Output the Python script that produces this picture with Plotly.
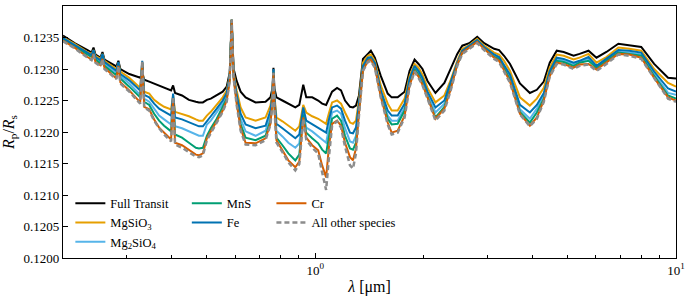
import plotly.graph_objects as go

# wavelength grid [micron]
wavelength = [
    0.2000, 0.2154, 0.2339, 0.2400, 0.2430, 0.2461, 0.2541, 0.2573, 0.2606, 0.2690,
    0.2812, 0.2848, 0.2884, 0.3053, 0.3274, 0.3316, 0.3358, 0.3467, 0.3578, 0.3693,
    0.3813, 0.3987, 0.4038, 0.4089, 0.4274, 0.4467, 0.4670, 0.4762, 0.4884, 0.5009,
    0.5137, 0.5335, 0.5543, 0.5685, 0.5795, 0.5833, 0.5869, 0.5905, 0.5943, 0.6058,
    0.6214, 0.6414, 0.6835, 0.7284, 0.7516, 0.7612, 0.7662, 0.7711, 0.7810, 0.8113,
    0.8425, 0.8809, 0.9035, 0.9267, 0.9445, 0.9811, 1.0192, 1.0454, 1.0722, 1.0928,
    1.1138, 1.1497, 1.1793, 1.2097, 1.2488, 1.2728, 1.2972, 1.3222, 1.3562, 1.3996,
    1.4265, 1.4632, 1.5197, 1.5886, 1.6293, 1.6927, 1.7693, 1.8265, 1.8855, 1.9339,
    1.9834, 2.0479, 2.1544, 2.2804, 2.3690, 2.4762, 2.5568, 2.6730, 2.8119, 2.9395,
    3.1325, 3.2331, 3.3375, 3.4674, 3.6941, 3.9355, 4.1143, 4.3013, 4.4677, 4.6710,
    4.8832, 5.2024, 5.4036, 5.7226, 6.0198, 6.4149, 6.9216, 7.4215, 8.0112, 8.6977,
    9.5060, 10.000,
]

full_transit = [
    0.12353, 0.12341, 0.12330, 0.12326, 0.12334, 0.12323, 0.12318, 0.12327, 0.12315, 0.12310,
    0.12304, 0.12313, 0.12300, 0.12292, 0.12286, 0.12294, 0.12283, 0.12280, 0.12277, 0.12274,
    0.12270, 0.12266, 0.12274, 0.12262, 0.12258, 0.12251, 0.12248, 0.12247, 0.12247, 0.12251,
    0.12253, 0.12258, 0.12264, 0.12272, 0.12294, 0.12337, 0.12378, 0.12337, 0.12300, 0.12281,
    0.12264, 0.12255, 0.12247, 0.12248, 0.12255, 0.12269, 0.12302, 0.12269, 0.12255, 0.12250,
    0.12245, 0.12239, 0.12243, 0.12275, 0.12255, 0.12255, 0.12250, 0.12245, 0.12243, 0.12255,
    0.12264, 0.12270, 0.12266, 0.12250, 0.12240, 0.12239, 0.12242, 0.12258, 0.12316, 0.12324,
    0.12329, 0.12318, 0.12289, 0.12261, 0.12255, 0.12255, 0.12264, 0.12297, 0.12315, 0.12308,
    0.12300, 0.12281, 0.12262, 0.12278, 0.12299, 0.12324, 0.12337, 0.12341, 0.12351, 0.12341,
    0.12332, 0.12330, 0.12321, 0.12308, 0.12277, 0.12262, 0.12267, 0.12280, 0.12310, 0.12329,
    0.12327, 0.12321, 0.12324, 0.12329, 0.12318, 0.12327, 0.12340, 0.12338, 0.12335, 0.12308,
    0.12286, 0.12285,
]

mgsio3 = [
    0.12350, 0.12340, 0.12327, 0.12324, 0.12330, 0.12321, 0.12316, 0.12324, 0.12313, 0.12308,
    0.12300, 0.12310, 0.12296, 0.12286, 0.12270, 0.12310, 0.12264, 0.12261, 0.12251, 0.12245,
    0.12240, 0.12236, 0.12258, 0.12232, 0.12229, 0.12225, 0.12220, 0.12218, 0.12218, 0.12226,
    0.12232, 0.12243, 0.12255, 0.12266, 0.12289, 0.12334, 0.12378, 0.12334, 0.12294, 0.12266,
    0.12239, 0.12223, 0.12218, 0.12223, 0.12242, 0.12262, 0.12297, 0.12258, 0.12223, 0.12217,
    0.12210, 0.12202, 0.12209, 0.12243, 0.12231, 0.12225, 0.12221, 0.12217, 0.12213, 0.12231,
    0.12247, 0.12250, 0.12245, 0.12231, 0.12215, 0.12213, 0.12218, 0.12250, 0.12310, 0.12321,
    0.12323, 0.12313, 0.12274, 0.12245, 0.12234, 0.12234, 0.12253, 0.12289, 0.12308, 0.12302,
    0.12291, 0.12270, 0.12247, 0.12258, 0.12281, 0.12313, 0.12332, 0.12338, 0.12348, 0.12337,
    0.12326, 0.12323, 0.12313, 0.12297, 0.12255, 0.12242, 0.12253, 0.12270, 0.12302, 0.12323,
    0.12321, 0.12315, 0.12318, 0.12324, 0.12310, 0.12319, 0.12334, 0.12332, 0.12329, 0.12300,
    0.12278, 0.12272,
]

mg2sio4 = [
    0.12349, 0.12338, 0.12324, 0.12320, 0.12329, 0.12317, 0.12311, 0.12323, 0.12308, 0.12302,
    0.12294, 0.12310, 0.12289, 0.12277, 0.12259, 0.12311, 0.12253, 0.12248, 0.12236, 0.12226,
    0.12220, 0.12212, 0.12258, 0.12209, 0.12206, 0.12201, 0.12196, 0.12194, 0.12194, 0.12212,
    0.12218, 0.12231, 0.12245, 0.12258, 0.12286, 0.12332, 0.12378, 0.12332, 0.12289, 0.12255,
    0.12221, 0.12201, 0.12194, 0.12202, 0.12226, 0.12255, 0.12297, 0.12248, 0.12202, 0.12193,
    0.12183, 0.12175, 0.12182, 0.12234, 0.12207, 0.12201, 0.12194, 0.12188, 0.12183, 0.12210,
    0.12231, 0.12234, 0.12229, 0.12206, 0.12185, 0.12183, 0.12194, 0.12239, 0.12302, 0.12316,
    0.12318, 0.12307, 0.12262, 0.12226, 0.12218, 0.12218, 0.12239, 0.12281, 0.12302, 0.12294,
    0.12281, 0.12259, 0.12231, 0.12245, 0.12272, 0.12308, 0.12327, 0.12335, 0.12345, 0.12334,
    0.12321, 0.12318, 0.12304, 0.12286, 0.12236, 0.12221, 0.12237, 0.12258, 0.12294, 0.12315,
    0.12313, 0.12308, 0.12311, 0.12316, 0.12304, 0.12315, 0.12327, 0.12326, 0.12323, 0.12292,
    0.12262, 0.12259,
]

mns = [
    0.12347, 0.12336, 0.12323, 0.12319, 0.12327, 0.12315, 0.12309, 0.12319, 0.12305, 0.12299,
    0.12290, 0.12307, 0.12285, 0.12272, 0.12255, 0.12310, 0.12248, 0.12243, 0.12229, 0.12218,
    0.12210, 0.12201, 0.12253, 0.12196, 0.12191, 0.12183, 0.12175, 0.12174, 0.12175, 0.12194,
    0.12206, 0.12221, 0.12239, 0.12253, 0.12283, 0.12330, 0.12378, 0.12330, 0.12286, 0.12250,
    0.12212, 0.12191, 0.12187, 0.12194, 0.12218, 0.12250, 0.12296, 0.12242, 0.12191, 0.12179,
    0.12166, 0.12155, 0.12164, 0.12228, 0.12199, 0.12190, 0.12182, 0.12172, 0.12166, 0.12194,
    0.12221, 0.12226, 0.12218, 0.12194, 0.12174, 0.12172, 0.12183, 0.12234, 0.12300, 0.12315,
    0.12316, 0.12305, 0.12259, 0.12221, 0.12212, 0.12213, 0.12234, 0.12278, 0.12300, 0.12291,
    0.12278, 0.12256, 0.12223, 0.12240, 0.12269, 0.12307, 0.12326, 0.12335, 0.12345, 0.12332,
    0.12319, 0.12316, 0.12300, 0.12283, 0.12232, 0.12215, 0.12231, 0.12253, 0.12292, 0.12313,
    0.12311, 0.12305, 0.12310, 0.12313, 0.12302, 0.12313, 0.12326, 0.12324, 0.12321, 0.12289,
    0.12258, 0.12253,
]

fe = [
    0.12349, 0.12338, 0.12326, 0.12322, 0.12330, 0.12319, 0.12314, 0.12324, 0.12311, 0.12305,
    0.12297, 0.12311, 0.12292, 0.12282, 0.12266, 0.12313, 0.12259, 0.12255, 0.12245, 0.12237,
    0.12232, 0.12226, 0.12261, 0.12223, 0.12220, 0.12215, 0.12210, 0.12209, 0.12209, 0.12218,
    0.12225, 0.12237, 0.12250, 0.12262, 0.12288, 0.12332, 0.12378, 0.12332, 0.12291, 0.12259,
    0.12229, 0.12212, 0.12206, 0.12210, 0.12234, 0.12259, 0.12300, 0.12255, 0.12213, 0.12206,
    0.12198, 0.12190, 0.12196, 0.12239, 0.12218, 0.12212, 0.12207, 0.12202, 0.12199, 0.12221,
    0.12239, 0.12242, 0.12237, 0.12218, 0.12199, 0.12198, 0.12207, 0.12245, 0.12305, 0.12318,
    0.12319, 0.12310, 0.12266, 0.12234, 0.12226, 0.12226, 0.12245, 0.12285, 0.12305, 0.12297,
    0.12286, 0.12264, 0.12239, 0.12250, 0.12277, 0.12310, 0.12329, 0.12337, 0.12346, 0.12335,
    0.12323, 0.12319, 0.12307, 0.12291, 0.12243, 0.12231, 0.12243, 0.12262, 0.12297, 0.12318,
    0.12316, 0.12310, 0.12313, 0.12319, 0.12305, 0.12316, 0.12330, 0.12329, 0.12326, 0.12296,
    0.12269, 0.12264,
]

cr = [
    0.12345, 0.12334, 0.12319, 0.12315, 0.12324, 0.12311, 0.12306, 0.12316, 0.12302, 0.12295,
    0.12285, 0.12305, 0.12279, 0.12266, 0.12247, 0.12310, 0.12240, 0.12236, 0.12220, 0.12207,
    0.12199, 0.12188, 0.12253, 0.12183, 0.12179, 0.12171, 0.12164, 0.12163, 0.12166, 0.12190,
    0.12201, 0.12217, 0.12234, 0.12250, 0.12281, 0.12329, 0.12378, 0.12329, 0.12285, 0.12245,
    0.12206, 0.12183, 0.12182, 0.12190, 0.12213, 0.12247, 0.12294, 0.12239, 0.12187, 0.12171,
    0.12155, 0.12144, 0.12153, 0.12223, 0.12191, 0.12179, 0.12171, 0.12147, 0.12128, 0.12179,
    0.12213, 0.12218, 0.12210, 0.12183, 0.12160, 0.12155, 0.12174, 0.12229, 0.12297, 0.12313,
    0.12315, 0.12304, 0.12256, 0.12215, 0.12199, 0.12202, 0.12226, 0.12274, 0.12297, 0.12288,
    0.12275, 0.12255, 0.12221, 0.12237, 0.12266, 0.12307, 0.12326, 0.12334, 0.12343, 0.12332,
    0.12318, 0.12313, 0.12297, 0.12280, 0.12229, 0.12210, 0.12223, 0.12250, 0.12289, 0.12310,
    0.12308, 0.12302, 0.12307, 0.12308, 0.12299, 0.12310, 0.12324, 0.12323, 0.12318, 0.12286,
    0.12255, 0.12250,
]

all_other = [
    0.12344, 0.12333, 0.12318, 0.12314, 0.12323, 0.12310, 0.12304, 0.12316, 0.12300, 0.12293,
    0.12284, 0.12305, 0.12277, 0.12264, 0.12245, 0.12313, 0.12239, 0.12234, 0.12218, 0.12206,
    0.12196, 0.12185, 0.12256, 0.12180, 0.12175, 0.12168, 0.12161, 0.12160, 0.12163, 0.12187,
    0.12198, 0.12215, 0.12232, 0.12248, 0.12281, 0.12329, 0.12378, 0.12329, 0.12285, 0.12243,
    0.12202, 0.12180, 0.12179, 0.12187, 0.12212, 0.12245, 0.12294, 0.12237, 0.12183, 0.12168,
    0.12152, 0.12139, 0.12149, 0.12221, 0.12188, 0.12175, 0.12166, 0.12136, 0.12108, 0.12163,
    0.12210, 0.12217, 0.12207, 0.12177, 0.12147, 0.12142, 0.12166, 0.12226, 0.12297, 0.12311,
    0.12313, 0.12302, 0.12255, 0.12212, 0.12196, 0.12199, 0.12223, 0.12272, 0.12296, 0.12286,
    0.12274, 0.12253, 0.12218, 0.12234, 0.12264, 0.12305, 0.12324, 0.12332, 0.12341, 0.12330,
    0.12316, 0.12311, 0.12296, 0.12278, 0.12228, 0.12209, 0.12221, 0.12248, 0.12288, 0.12308,
    0.12307, 0.12300, 0.12305, 0.12307, 0.12297, 0.12308, 0.12323, 0.12321, 0.12316, 0.12285,
    0.12253, 0.12248,
]

series = [
    ("Full Transit", full_transit, "#000000", "solid", 2.0, "legend"),
    ("MgSiO<sub>3</sub>", mgsio3, "#E69F00", "solid", 2.0, "legend"),
    ("Mg<sub>2</sub>SiO<sub>4</sub>", mg2sio4, "#56B4E9", "solid", 2.0, "legend"),
    ("MnS", mns, "#009E73", "solid", 2.0, "legend2"),
    ("Fe", fe, "#0072B2", "solid", 2.0, "legend2"),
    ("Cr", cr, "#D55E00", "solid", 2.0, "legend3"),
    ("All other species", all_other, "#8C8C8C", "5px,3px", 2.5, "legend3"),
]

x_major = [1, 10]
x_major_text = ["10<sup>0</sup>", "10<sup>1</sup>"]
x_minor = [0.3, 0.4, 0.5, 0.6, 0.7, 0.8, 0.9, 2, 3, 4, 5, 6, 7, 8, 9]

fig = go.Figure()
for name, vals, color, dash, width, leg in series:
    fig.add_trace(go.Scatter(
        x=wavelength, y=vals, mode="lines", name=name,
        line=dict(color=color, width=width, dash=dash),
        legend=leg,
    ))

SERIF = "Liberation Serif"
font = dict(family=SERIF, size=13, color="black")
leg_font = dict(family=SERIF, size=12.5, color="black")
leg_common = dict(bgcolor="rgba(0,0,0,0)", borderwidth=0, font=leg_font,
                  xanchor="left", yanchor="top", orientation="v", tracegroupgap=0)

fig.update_layout(
    width=690, height=300,
    margin=dict(l=63, r=10, t=5, b=42),
    paper_bgcolor="white", plot_bgcolor="white",
    font=font,
    showlegend=True,
    legend=dict(x=0.012, y=0.275, **leg_common),
    legend2=dict(x=0.202, y=0.275, **leg_common),
    legend3=dict(x=0.34, y=0.275, **leg_common),
    xaxis=dict(
        type="log", range=[-0.69897, 1.0],
        showline=True, linecolor="black", linewidth=1.2, mirror=True,
        showgrid=False, zeroline=False,
        ticks="inside", ticklen=5, tickwidth=1, tickcolor="black",
        tickvals=x_major, ticktext=x_major_text,
        minor=dict(ticks="inside", ticklen=3, tickwidth=1, tickcolor="black",
                   tickvals=x_minor, showgrid=False),
        title=dict(text="<i>λ</i> [μm]", font=dict(family=SERIF, size=16), standoff=4),
    ),
    yaxis=dict(
        range=[0.12, 0.124],
        showline=True, linecolor="black", linewidth=1.2, mirror=True,
        showgrid=False, zeroline=False,
        ticks="inside", ticklen=5, tickwidth=1, tickcolor="black",
        dtick=0.0005, tick0=0.12, tickformat=".4f",
        title=dict(text="<i>R</i><sub>p</sub>/<i>R</i><sub>s</sub>",
                   font=dict(family=SERIF, size=16), standoff=6),
    ),
)

fig.write_html("out.html", config={"displayModeBar": False},
               post_script="document.body.style.margin='0px';")
